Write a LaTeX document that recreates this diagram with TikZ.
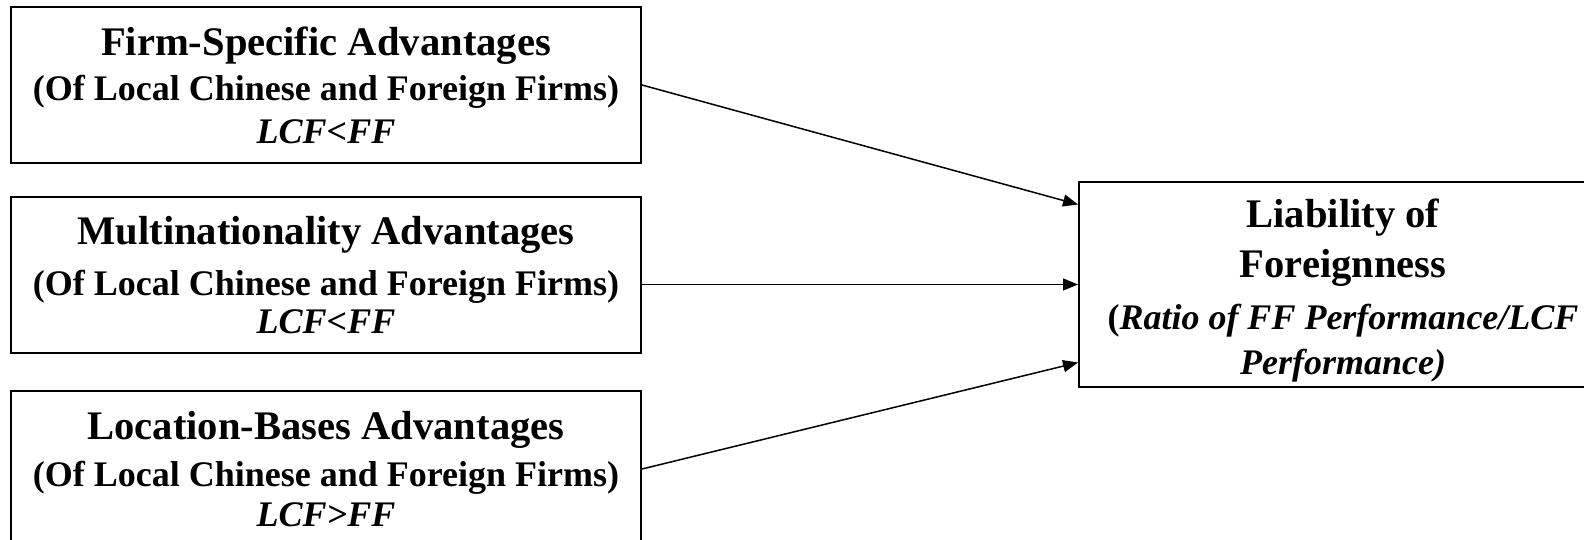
\documentclass[tikz,border=0pt]{standalone}
\usepackage{fontspec}
\setmainfont{Liberation Serif}
\usetikzlibrary{positioning,arrows.meta}

\newcommand{\bigtitle}{\fontsize{20.3}{24}\selectfont\bfseries}

\begin{document}
\begin{tikzpicture}[x=0.5pt, y=-0.5pt,
    factor/.style={draw, line width=1pt, align=center, minimum width=315pt, minimum height=78pt, inner sep=0pt, font=\fontsize{18}{21.5}\selectfont\bfseries},
    outcome/.style={factor, minimum width=264pt, minimum height=102.5pt},
    link/.style={-{Triangle[length=7.5pt, width=6pt]}, line width=0.75pt}]
    \useasboundingbox (0,0) rectangle (1584,540);

    \node[factor] (fsa) at (326,85) {{\bigtitle Firm-Specific Advantages}\\[1pt](Of Local Chinese and Foreign Firms)\\\textit{LCF<FF}};
    \node[factor, below=16pt of fsa] (mna) {{\bigtitle Multinationality Advantages}\\[4pt](Of Local Chinese and Foreign Firms)\\[-2.5pt]\textit{LCF<FF}};
    \node[factor, below=18pt of mna] (lba) {{\bigtitle Location-Bases Advantages}\\[2pt](Of Local Chinese and Foreign Firms)\\[-1.5pt]\textit{LCF>FF}};

    \node[outcome] (lof) at (1343,284.5) {{\bigtitle\rule{0pt}{20pt}Liability of}\\[3.5pt]{\bigtitle Foreignness}\\[4.5pt](\textit{Ratio of FF Performance/LCF}\\[1pt]\textit{Performance)}};

    \draw[link] (fsa.east) -- ([yshift=40pt]lof.west);
    \draw[link] (mna.east |- lof.west) -- (lof.west);
    \draw[link] (lba.east) -- ([yshift=-39pt]lof.west);
\end{tikzpicture}
\end{document}
